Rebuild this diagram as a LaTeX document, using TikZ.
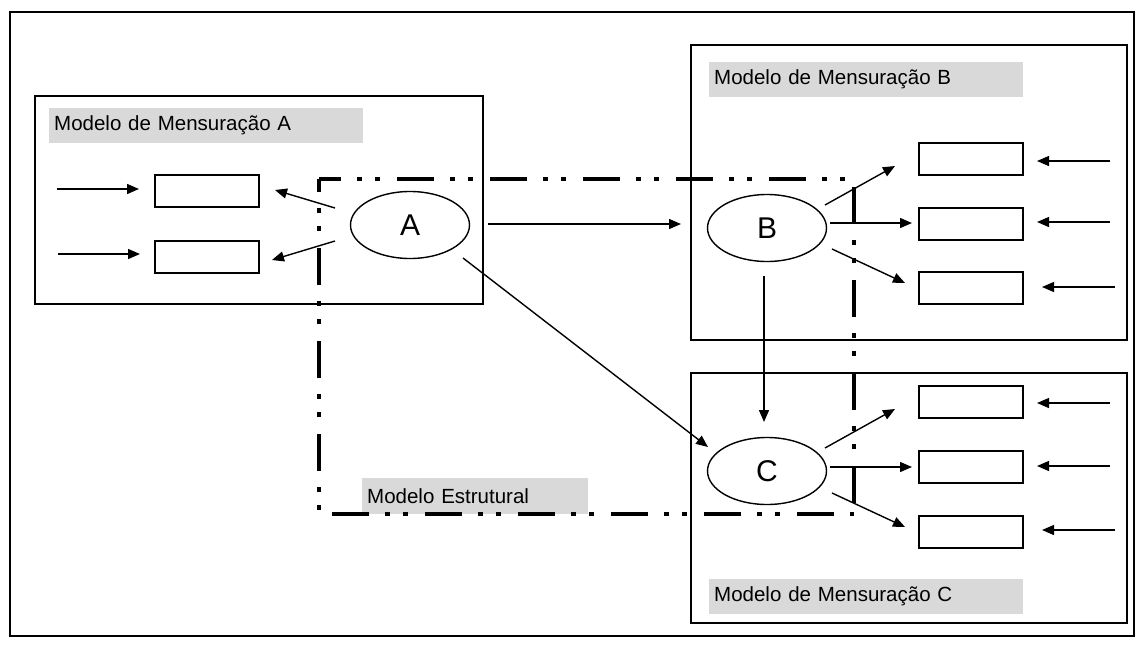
\documentclass[tikz,border=0pt]{standalone}
\usepackage{fontspec}
\setmainfont{Liberation Sans}
\usetikzlibrary{arrows.meta,shapes.geometric}
\definecolor{lblgray}{HTML}{D9D9D9}
\begin{document}
\begin{tikzpicture}[x=1pt,y=-1pt,
  frame/.style={draw=black,line width=2pt},
  ind/.style={draw=black,line width=2pt,minimum width=104pt,minimum height=32pt,inner sep=0pt,anchor=north west},
  lat/.style={ellipse,draw=black,line width=1.4pt,minimum width=119pt,minimum height=67pt,inner sep=0pt,font=\fontsize{30}{32}\selectfont},
  lbl/.style={fill=lblgray,anchor=north west,text width=304pt,inner xsep=5pt,inner ysep=0pt,minimum height=35pt,font=\fontsize{20.5}{22}\selectfont},
  slbl/.style={fill=lblgray,anchor=north west,text width=216pt,inner xsep=5pt,inner ysep=0pt,minimum height=36pt,font=\fontsize{20.5}{22}\selectfont},
  arr/.style={line width=1.4pt,-{Triangle[length=12pt,width=10pt]}},
  struct/.style={line width=4.8pt,dash pattern=on 37pt off 16pt on 5pt off 13pt on 5pt off 17pt}
]
\useasboundingbox (0,0) rectangle (1145,648);
\fill[white] (0,0) rectangle (1145,648);
% outer frame
\draw[frame] (10,12) rectangle (1134,636);
% measurement model boxes
\draw[frame] (35,96) rectangle (483,304);
\draw[frame] (691,45) rectangle (1127,340);
\draw[frame] (691,373) rectangle (1127,623);
% labels
\node[lbl] (lA) at (49,108) {Modelo de Mensuração A};
\node[lbl] (lB) at (709,62) {Modelo de Mensuração B};
\node[lbl] (lC) at (709,579) {Modelo de Mensuração C};
\node[slbl] (lS) at (362,478) {Modelo Estrutural};
% structural frame
\draw[struct,dash phase=15pt] (319,179) -- (854,179) -- (854,514);
\draw[struct,dash phase=24pt] (319,179) -- (319,514) -- (854,514);
% latent variables
\node[lat] (A) at (410,225) {A};
\node[lat] (B) at (767,228) {B};
\node[lat] (C) at (767,471) {C};
% indicators
\node[ind] (a1) at (154,174) {};
\node[ind] (a2) at (154,240) {};
\node[ind] (b1) at (918,142) {};
\node[ind] (b2) at (918,207) {};
\node[ind] (b3) at (918,271) {};
\node[ind] (c1) at (918,385) {};
\node[ind] (c2) at (918,450) {};
\node[ind] (c3) at (918,515) {};
% connector end points
\coordinate (ia1) at (57,189);   \coordinate (ia1t) at (139,189);
\coordinate (ia2) at (58,254);   \coordinate (ia2t) at (140,254);
\coordinate (Aa1) at (335,208);  \coordinate (Aa1t) at (275,190);
\coordinate (Aa2) at (335,241);  \coordinate (Aa2t) at (272,260);
\coordinate (AB) at (488,224);   \coordinate (ABt) at (681,224);
\coordinate (AC) at (463,258);   \coordinate (ACt) at (708,447);
\coordinate (BC) at (764,276);   \coordinate (BCt) at (764,422);
\coordinate (Bb1) at (825,205);  \coordinate (Bb1t) at (895,166);
\coordinate (Bb2) at (830,223);  \coordinate (Bb2t) at (912,223);
\coordinate (Bb3) at (832,249);  \coordinate (Bb3t) at (905,283);
\coordinate (Cc1) at (825,448);  \coordinate (Cc1t) at (895,409);
\coordinate (Cc2) at (830,467);  \coordinate (Cc2t) at (912,467);
\coordinate (Cc3) at (832,493);  \coordinate (Cc3t) at (905,527);
\coordinate (ib1) at (1110,161); \coordinate (ib1t) at (1037,161);
\coordinate (ib2) at (1110,222); \coordinate (ib2t) at (1037,222);
\coordinate (ib3) at (1115,287); \coordinate (ib3t) at (1042,287);
\coordinate (ic1) at (1110,403); \coordinate (ic1t) at (1037,403);
\coordinate (ic2) at (1110,466); \coordinate (ic2t) at (1037,466);
\coordinate (ic3) at (1115,530); \coordinate (ic3t) at (1042,530);
% connectors
\draw[arr] (ia1) -- (ia1t);
\draw[arr] (ia2) -- (ia2t);
\draw[arr] (Aa1) -- (Aa1t);
\draw[arr] (Aa2) -- (Aa2t);
\draw[arr] (AB) -- (ABt);
\draw[arr] (AC) -- (ACt);
\draw[arr] (BC) -- (BCt);
\draw[arr] (Bb1) -- (Bb1t);
\draw[arr] (Bb2) -- (Bb2t);
\draw[arr] (Bb3) -- (Bb3t);
\draw[arr] (Cc1) -- (Cc1t);
\draw[arr] (Cc2) -- (Cc2t);
\draw[arr] (Cc3) -- (Cc3t);
\draw[arr] (ib1) -- (ib1t);
\draw[arr] (ib2) -- (ib2t);
\draw[arr] (ib3) -- (ib3t);
\draw[arr] (ic1) -- (ic1t);
\draw[arr] (ic2) -- (ic2t);
\draw[arr] (ic3) -- (ic3t);
\end{tikzpicture}
\end{document}
